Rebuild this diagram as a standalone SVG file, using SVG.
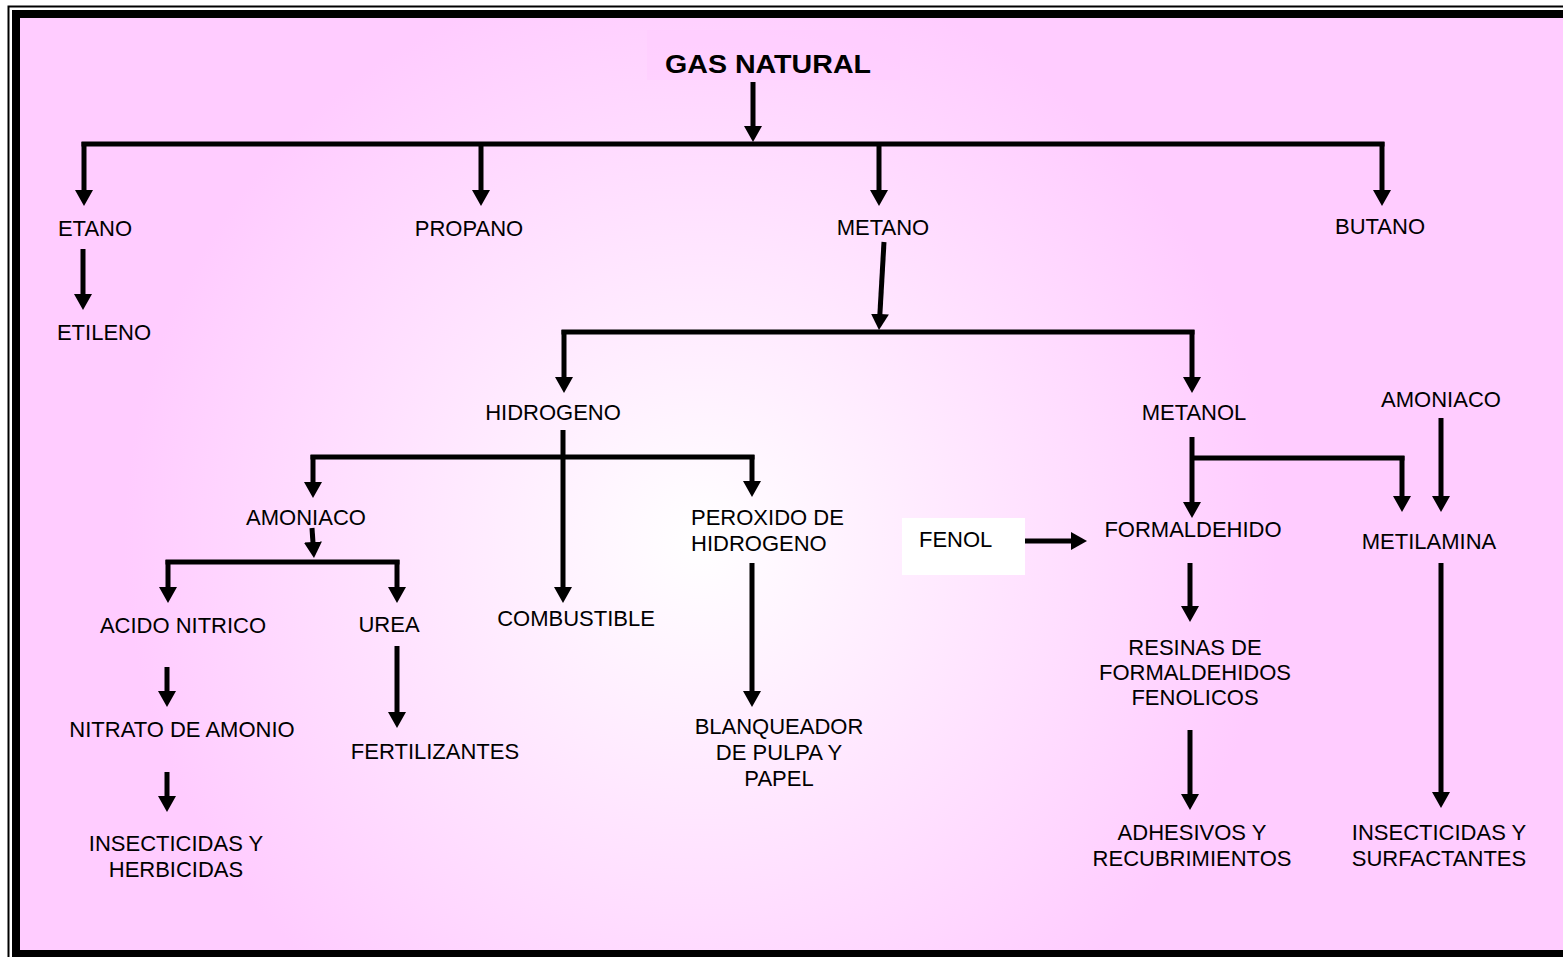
<svg xmlns="http://www.w3.org/2000/svg" width="1563" height="957" viewBox="0 0 1563 957">
<style>
.t{font-family:"Liberation Sans",Arial,sans-serif;font-size:22px;fill:#000;text-anchor:middle}
.s{text-anchor:start}
.c{stroke:#000;stroke-width:5;fill:none}
.a{stroke:#000;stroke-width:5;fill:none;marker-end:url(#ah)}
</style>
<defs>
<radialGradient id="bg" gradientUnits="userSpaceOnUse" cx="700" cy="540" r="800">
<stop offset="0" stop-color="#FFFFFF"/>
<stop offset="0.72" stop-color="#FFCCFF"/>
<stop offset="1" stop-color="#FFCCFF"/>
</radialGradient>
<marker id="ah" markerUnits="userSpaceOnUse" viewBox="0 0 16 18" refX="1" refY="9" markerWidth="16" markerHeight="18" orient="auto">
<path d="M0,0 L16,9 L0,18 z" fill="#000"/>
</marker>
</defs>
<rect x="0" y="0" width="1563" height="957" fill="#FFFFFF"/>
<rect x="8.5" y="6.5" width="1600" height="1000" fill="none" stroke="#000" stroke-width="2"/>
<rect x="16" y="14" width="1600" height="940" fill="url(#bg)" stroke="#000" stroke-width="8"/>
<rect x="647" y="30" width="253" height="50" fill="#FFCCFF" fill-opacity="0.5"/>
<rect x="902" y="518" width="123" height="57" fill="#FFFFFF"/>

<g id="connectors">
<line class="a" x1="753" y1="82" x2="753" y2="127"/>
<line class="c" x1="81.5" y1="144" x2="1384.5" y2="144"/>
<line class="a" x1="84" y1="142" x2="84" y2="191"/>
<line class="a" x1="481" y1="142" x2="481" y2="191"/>
<line class="a" x1="879" y1="142" x2="879" y2="191"/>
<line class="a" x1="1382" y1="142" x2="1382" y2="191"/>
<line class="a" x1="83" y1="249" x2="83" y2="295"/>
<line class="a" x1="884" y1="242" x2="879.85" y2="315"/>
<line class="c" x1="561.5" y1="332" x2="1194.5" y2="332"/>
<line class="a" x1="564" y1="330" x2="564" y2="378"/>
<line class="a" x1="1192" y1="330" x2="1192" y2="378"/>
<line class="a" x1="563" y1="430" x2="563" y2="588"/>
<line class="c" x1="310.5" y1="457" x2="754.5" y2="457"/>
<line class="a" x1="313" y1="455" x2="313" y2="483"/>
<line class="a" x1="752" y1="455" x2="752" y2="482"/>
<line class="a" x1="312" y1="528" x2="313" y2="543"/>
<line class="c" x1="165.5" y1="562" x2="399.5" y2="562"/>
<line class="a" x1="168" y1="560" x2="168" y2="588"/>
<line class="a" x1="397" y1="560" x2="397" y2="588"/>
<line class="a" x1="167" y1="667" x2="167" y2="692"/>
<line class="a" x1="167" y1="772" x2="167" y2="797"/>
<line class="a" x1="397" y1="646" x2="397" y2="713"/>
<line class="a" x1="752" y1="563" x2="752" y2="692"/>
<line class="a" x1="1192" y1="437" x2="1192" y2="503"/>
<line class="c" x1="1192" y1="458" x2="1404.5" y2="458"/>
<line class="a" x1="1402" y1="456" x2="1402" y2="497"/>
<line class="a" x1="1025" y1="541" x2="1072" y2="541"/>
<line class="a" x1="1190" y1="563" x2="1190" y2="607"/>
<line class="a" x1="1190" y1="730" x2="1190" y2="795"/>
<line class="a" x1="1441" y1="418" x2="1441" y2="497"/>
<line class="a" x1="1441" y1="563" x2="1441" y2="793"/>
</g>

<g id="gas-natural"><text class="t" x="768" y="73" style="font-weight:bold;font-size:26px" textLength="206" lengthAdjust="spacingAndGlyphs">GAS NATURAL</text></g>
<g id="etano"><text class="t" x="95" y="236">ETANO</text></g>
<g id="etileno"><text class="t" x="104" y="340">ETILENO</text></g>
<g id="propano"><text class="t" x="469" y="236">PROPANO</text></g>
<g id="metano"><text class="t" x="883" y="235">METANO</text></g>
<g id="butano"><text class="t" x="1380" y="234">BUTANO</text></g>
<g id="hidrogeno"><text class="t" x="553" y="420">HIDROGENO</text></g>
<g id="metanol"><text class="t" x="1194" y="420">METANOL</text></g>
<g id="amoniaco-2"><text class="t" x="1441" y="407">AMONIACO</text></g>
<g id="amoniaco-1"><text class="t" x="306" y="525">AMONIACO</text></g>
<g id="peroxido"><text class="t s" x="691" y="525">PEROXIDO DE</text><text class="t s" x="691" y="551">HIDROGENO</text></g>
<g id="fenol"><text class="t s" x="919" y="547">FENOL</text></g>
<g id="formaldehido"><text class="t" x="1193" y="537">FORMALDEHIDO</text></g>
<g id="metilamina"><text class="t" x="1429" y="549">METILAMINA</text></g>
<g id="acido-nitrico"><text class="t" x="183" y="633">ACIDO NITRICO</text></g>
<g id="urea"><text class="t" x="389" y="632">UREA</text></g>
<g id="combustible"><text class="t" x="576" y="626">COMBUSTIBLE</text></g>
<g id="nitrato"><text class="t" x="182" y="737">NITRATO DE AMONIO</text></g>
<g id="fertilizantes"><text class="t" x="435" y="759">FERTILIZANTES</text></g>
<g id="insecticidas-1"><text class="t" x="176" y="851">INSECTICIDAS Y</text><text class="t" x="176" y="877">HERBICIDAS</text></g>
<g id="blanqueador"><text class="t" x="779" y="734">BLANQUEADOR</text><text class="t" x="779" y="760">DE PULPA Y</text><text class="t" x="779" y="786">PAPEL</text></g>
<g id="resinas"><text class="t" x="1195" y="655">RESINAS DE</text><text class="t" x="1195" y="680">FORMALDEHIDOS</text><text class="t" x="1195" y="705">FENOLICOS</text></g>
<g id="adhesivos"><text class="t" x="1192" y="840">ADHESIVOS Y</text><text class="t" x="1192" y="866">RECUBRIMIENTOS</text></g>
<g id="insecticidas-2"><text class="t" x="1439" y="840">INSECTICIDAS Y</text><text class="t" x="1439" y="866">SURFACTANTES</text></g>
</svg>
